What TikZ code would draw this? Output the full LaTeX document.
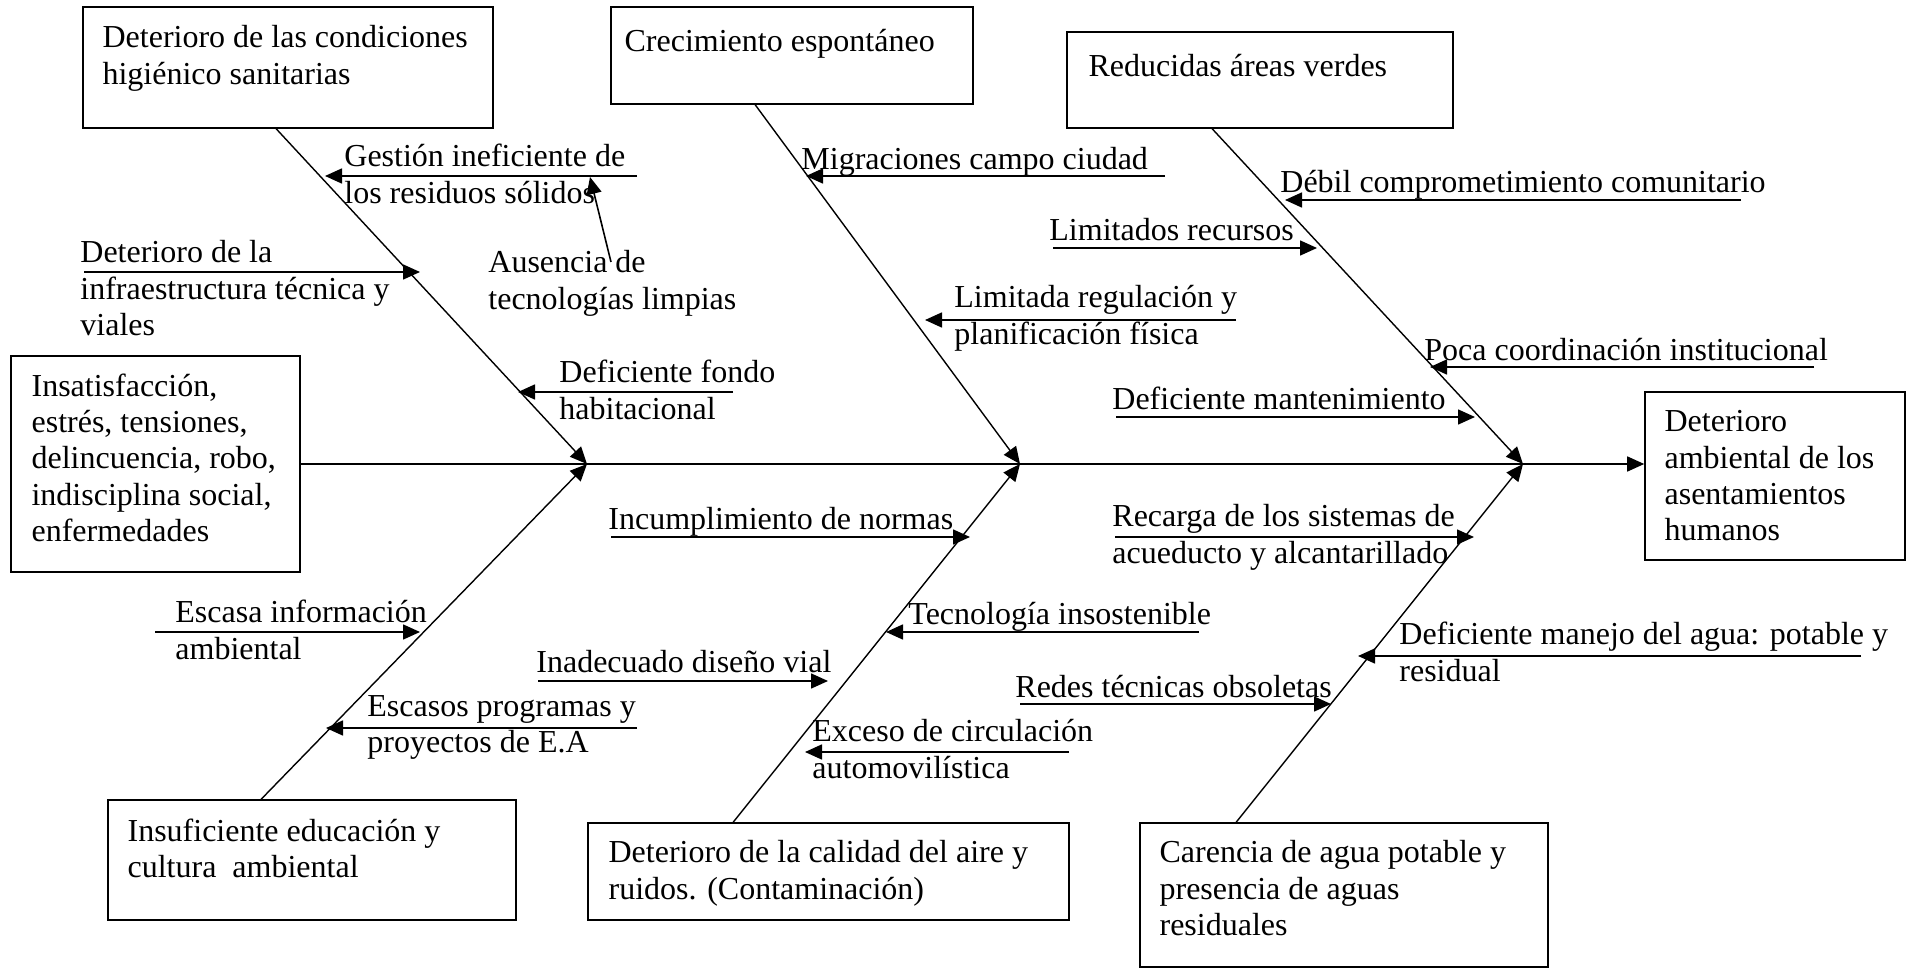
\documentclass[tikz,border=0pt]{standalone}
\usepackage{fontspec}
\setmainfont{Liberation Serif}
\usetikzlibrary{arrows.meta,calc,fit}
\tikzset{
    %Define standard arrow tip
    >={Triangle[length=8.5pt,width=7.5pt]},
    % cajas de causas y efecto
    caja/.style={
           draw,
           line width=0.8pt,
           inner sep=0pt,
           },
    % textos
    txt/.style={
           anchor=north west,
           inner sep=0pt,
           yshift=-1.5pt,
           align=left,
           execute at begin node=\strut,
           },
    % flechas
    pil/.style={
           ->,
           line width=0.8pt,
           },
    hueso/.style={
           ->,
           line width=0.7pt,
}
}

\begin{document}
\begin{tikzpicture}[x=0.5pt,y=-0.5pt,font=\fontsize{16}{18.2}\selectfont]
  \useasboundingbox (0,0) rectangle (1908,968);
  % cajas
  \node[caja, fit={(83,7) (493,128)}] (higiene) {};
  \node[caja, fit={(611,7) (973,104)}] (crec) {};
  \node[caja, fit={(1067,32) (1453,128)}] (verdes) {};
  \node[caja, fit={(11,356) (300,572)}] (social) {};
  \node[caja, fit={(1645,392) (1905,560)}] (efecto) {};
  \node[caja, fit={(108,800) (516,920)}] (educ) {};
  \node[caja, fit={(588,823) (1069,920)}] (aire) {};
  \node[caja, fit={(1140,823) (1548,967)}] (agua) {};
  \node[txt] (thig) at ($(higiene.north west)+(20,16)$) {Deterioro de las condiciones\\higiénico sanitarias};
  \node[txt] (tcre) at ($(crec.north west)+(14,16)$) {Crecimiento espontáneo};
  \node[txt] (tver) at ($(verdes.north west)+(22,16)$) {Reducidas áreas verdes};
  \node[txt] (tsoc) at ($(social.north west)+(21,15)$) {Insatisfacción,\\estrés, tensiones,\\delincuencia, robo,\\indisciplina social,\\enfermedades};
  \node[txt] (tefe) at ($(efecto.north west)+(20,16)$) {Deterioro\\ambiental de los\\asentamientos\\humanos};
  \node[txt] (tedu) at ($(educ.north west)+(20,16)$) {Insuficiente educación y\\cultura\ \ ambiental};
  \node[txt] (tair) at ($(aire.north west)+(21,15)$) {Deterioro de la calidad del aire y\\ruidos. (Contaminación)};
  \node[txt] (tagu) at ($(agua.north west)+(20,15)$) {Carencia de agua potable y\\presencia de aguas\\residuales};
  % espina
  \coordinate (j1) at (587,464);
  \coordinate (j2) at (1020,464);
  \coordinate (j3) at (1523,464);
  \coordinate (h1) at ($(higiene.south west)+(194,0)$);
  \coordinate (h2) at ($(crec.south west)+(145,0)$);
  \coordinate (h3) at ($(verdes.south west)+(146,0)$);
  \coordinate (h4) at ($(educ.north west)+(154,0)$);
  \coordinate (h5) at ($(aire.north west)+(146,0)$);
  \coordinate (h6) at ($(agua.north west)+(97,0)$);
  \draw [pil] (social.east) -- (efecto.west |- social.east);
  \draw [hueso] (h1) -- (j1);
  \draw [hueso] (h2) -- (j2);
  \draw [hueso] (h3) -- (j3);
  \draw [hueso] (h4) -- (j1);
  \draw [hueso] (h5) -- (j2);
  \draw [hueso] (h6) -- (j3);
  % causas secundarias
  \foreach \n/\xa/\ya/\xb/\yb in {gest/637/176/325/176, aus/611/262/590/177,
      infra/84/272/420/272, fondo/733/392/518/392, migr/1165/176/806/176,
      regul/1236/320/925/320, debil/1741/200/1285/200, recur/1053/248/1317/248,
      coord/1814/367/1430/367, mant/1116/417/1475/417, norma/611/537/970/537,
      info/155/632/420/632, progr/637/728/326/728, tecno/1199/632/886/632,
      vial/538/681/828/681, exceso/1069/752/805/752, recarga/1115/537/1474/537,
      manejo/1861/656/1358/656, redes/1020/704/1331/704}{
    \coordinate (\n-a) at (\xa,\ya);
    \coordinate (\n-b) at (\xb,\yb);
    \draw [pil] (\n-a) -- (\n-b);
  }
  \node[txt] (gest) at (344,141) {Gestión ineficiente de\\los residuos sólidos};
  \node[txt] (aus) at (488,247) {Ausencia de\\tecnologías limpias};
  \node[txt] (infra) at (80,237) {Deterioro de la\\infraestructura técnica y\\viales};
  \node[txt] (fondo) at (559,357) {Deficiente fondo\\habitacional};
  \node[txt] (migr) at (801,141) {Migraciones campo ciudad};
  \node[txt] (regul) at (954,282) {Limitada regulación y\\planificación física};
  \node[txt] (debil) at (1280,164) {Débil comprometimiento comunitario};
  \node[txt] (recur) at (1049,212) {Limitados recursos};
  \node[txt] (coord) at (1424,332) {Poca coordinación institucional};
  \node[txt] (mant) at (1112,381) {Deficiente mantenimiento};
  \node[txt] (norma) at (608,501) {Incumplimiento de normas};
  \node[txt] (info) at (175,597) {Escasa información\\ambiental};
  \node[txt] (progr) at (367,692) {Escasos programas y\\proyectos de E.A};
  \node[txt] (tecno) at (908,596) {Tecnología insostenible};
  \node[txt] (vial) at (536,644) {Inadecuado diseño vial};
  \node[txt] (exceso) at (812,716) {Exceso de circulación\\automovilística};
  \node[txt] (recarga) at (1112,501) {Recarga de los sistemas de\\acueducto y alcantarillado};
  \node[txt] (manejo) at (1399,619) {Deficiente manejo del agua: potable y\\residual};
  \node[txt] (redes) at (1015,669) {Redes técnicas obsoletas};
\end{tikzpicture}
\end{document}
